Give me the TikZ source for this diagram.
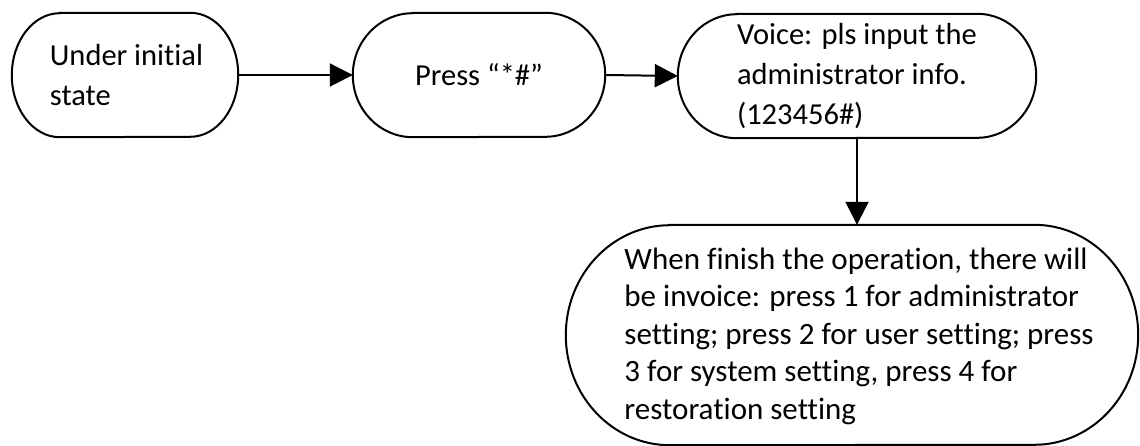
\documentclass[tikz,border=0pt]{standalone}
\usepackage{fontspec}
\setmainfont{Carlito}[Ligatures={NoCommon}]
\usetikzlibrary{arrows.meta}
\newcommand\capsuleoutline[3]{%
  \draw[outline] ([xshift=#2]#1.north west) -- ([xshift=-#2]#1.north east)
    arc[start angle=90,end angle=-90,x radius=#2,y radius=#3]
    -- ([xshift=#2]#1.south west)
    arc[start angle=270,end angle=90,x radius=#2,y radius=#3] -- cycle;}
\begin{document}
\begin{tikzpicture}[x=1pt,y=-1pt,
  lbl/.style={draw=none,inner sep=0pt,align=left,font=\fontsize{30.5}{40}\selectfont},
  biglbl/.style={draw=none,inner sep=0pt,align=left,font=\fontsize{31}{37.5}\selectfont},
  conn/.style={line width=2pt,-{Triangle[length=23pt,width=23pt]}},
  outline/.style={line width=2pt}]
\useasboundingbox[fill=white] (0,0) rectangle (1140,446);
\node[lbl,minimum width=226pt,minimum height=124pt] (b1) at (125,75) {\hspace*{3pt}Under initial\\\hspace*{3pt}state};
\node[lbl,minimum width=252pt,minimum height=124pt] (b2) at (479,75) {Press “*\#”};
\node[lbl,minimum width=358pt,minimum height=124pt] (b3) at (857,76) {Voice: pls input the\\administrator info.\\(123456\#)};
\node[draw=none,inner sep=0pt,minimum width=572pt,minimum height=220pt] (b4) at (852,335) {};
\node[biglbl] (t4) at (859,336) {When finish the operation, there will\\be invoice: press 1 for administrator\\setting; press 2 for user setting; press\\3 for system setting, press 4 for\\restoration setting};
\capsuleoutline{b1}{48pt}{62pt}
\capsuleoutline{b2}{60pt}{62pt}
\capsuleoutline{b3}{59pt}{62pt}
\capsuleoutline{b4}{104pt}{110pt}
\draw[conn] (b1.east) -- (b2.west);
\draw[conn] (b2.east) -- (b3.west);
\draw[conn] (b3.south) -- (b3.south |- b4.north);
\end{tikzpicture}
\end{document}
